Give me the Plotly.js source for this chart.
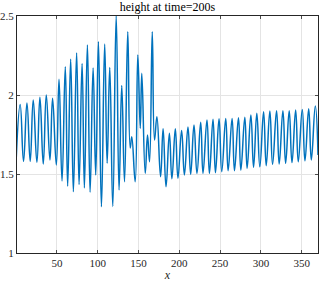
<!DOCTYPE html>
<html>
<head>
<meta charset="utf-8">
<script src="https://cdn.plot.ly/plotly-3.0.1.min.js"></script>
<style>html,body{margin:0;padding:0;background:#fff;}#chart{width:319px;height:282px;}</style>
</head>
<body>
<div id="chart"></div>
<script>
// Extrema (peaks/troughs) of the height profile
const xPos = [0, 4.9, 9.0, 13.2, 17.2, 20.9, 25.4, 29.1, 33.2, 36.9, 41.4, 44.6, 49.2, 52.5, 56.2, 60.2, 63.1, 66.8, 70.1, 74.1, 77.1, 80.8, 83.6, 87.3, 90.6, 94.3, 97.5, 100.8, 104.5, 108.5, 111.5, 114.7, 118.4, 122.6, 126.1, 129.4, 132.8, 136.8, 139.8, 141.7, 145.9, 149.1, 152.1, 154.0, 158.2, 161.0, 163.5, 166.8, 169.6, 172.5, 177.0, 180.1, 183.7, 187.8, 190.9, 195.1, 198.3, 202.8, 206.2, 210.6, 213.9, 218.0, 221.6, 226.2, 229.0, 233.9, 236.9, 241.3, 244.3, 248.7, 252.0, 256.9, 259.8, 264.7, 267.6, 272.5, 275.4, 280.3, 283.1, 287.7, 291.0, 295.0, 298.7, 303.3, 306.5, 311.0, 314.3, 319.2, 322.4, 327.0, 330.3, 334.7, 338.1, 342.6, 345.8, 350.7, 354.0, 358.6, 361.8, 366.7, 370];
const height = [1.59, 1.94, 1.58, 1.95, 1.58, 1.968, 1.574, 1.985, 1.563, 2.0, 1.589, 1.979, 1.557, 2.099, 1.456, 2.179, 1.423, 2.226, 1.388, 2.266, 1.433, 2.2, 1.412, 2.316, 1.385, 2.171, 1.494, 2.337, 1.293, 2.322, 1.568, 2.174, 1.295, 2.5, 1.399, 2.06, 1.451, 2.40, 1.665, 1.736, 1.451, 2.253, 1.789, 2.137, 1.504, 1.747, 1.578, 2.40, 1.715, 1.863, 1.483, 1.787, 1.42, 1.758, 1.47, 1.786, 1.473, 1.776, 1.494, 1.797, 1.498, 1.81, 1.504, 1.828, 1.504, 1.842, 1.504, 1.847, 1.508, 1.849, 1.515, 1.852, 1.521, 1.852, 1.521, 1.856, 1.525, 1.859, 1.536, 1.873, 1.542, 1.884, 1.546, 1.894, 1.553, 1.899, 1.561, 1.901, 1.563, 1.901, 1.568, 1.901, 1.572, 1.905, 1.578, 1.909, 1.584, 1.913, 1.589, 1.93, 1.62];
const xTicks = [50, 100, 150, 200, 250, 300, 350];
const yTicks = [1, 1.5, 2, 2.5];
const yTickText = ['1', '1.5', '2', '2.5'];
const titleText = 'height at time=200s';
const xLabel = '<i>x</i>';

const serif = 'Liberation Serif, DejaVu Serif, serif';
const axisCommon = {
  showline: true, mirror: 'ticks', linecolor: '#262626', linewidth: 1,
  ticks: 'inside', ticklen: 3, tickcolor: '#262626', tickwidth: 0.8,
  showgrid: true, gridcolor: '#e4e4e4', gridwidth: 1,
  zeroline: false,
  tickfont: {family: serif, size: 11, color: '#262626'}
};

Plotly.newPlot('chart', [{
  x: xPos, y: height, type: 'scatter', mode: 'lines',
  line: {color: '#0072BD', width: 1.5, shape: 'spline', smoothing: 1.3},
  hoverinfo: 'skip'
}], {
  width: 319, height: 282,
  margin: {l: 17, r: 1, t: 16, b: 29},
  paper_bgcolor: '#ffffff', plot_bgcolor: '#ffffff',
  showlegend: false,
  title: {text: titleText, font: {family: serif, size: 12, color: '#000000'},
          x: 0.525, xanchor: 'center', xref: 'container', y: 1 - 7/282, yanchor: 'middle', yref: 'container'},
  xaxis: Object.assign({}, axisCommon, {
    range: [1, 370], tickvals: xTicks, ticktext: xTicks.map(String),
    title: {text: xLabel, font: {family: serif, size: 12, color: '#262626'}, standoff: 2}
  }),
  yaxis: Object.assign({}, axisCommon, {
    range: [1, 2.5], tickvals: yTicks, ticktext: yTickText
  })
}, {staticPlot: true, displayModeBar: false});
</script>
</body>
</html>
